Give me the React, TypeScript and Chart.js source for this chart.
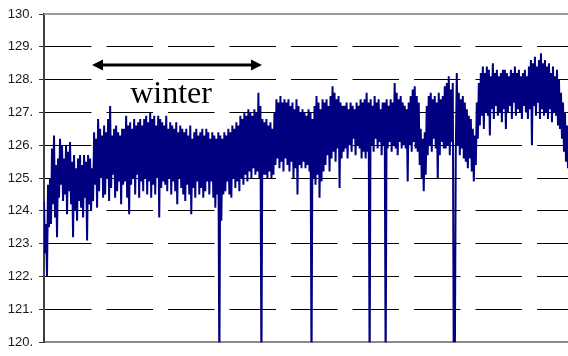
import React, { useEffect, useRef } from "react";
import { Chart, registerables } from "chart.js";

Chart.register(...registerables);

// Y-axis tick values (labels are shown as "130." etc.)
const yTicks = [130, 129, 128, 127, 126, 125, 124, 123, 122, 121, 120];

// The series read from the picture as pairs of samples: the upper sample of each
// 2-px step, then the lower sample of the same step (left to right).
const upper: number[] = [
  124.3, 123.6, 124.8, 125.0, 125.9, 126.3, 125.4, 125.6, 126.2, 126.0,
  125.6, 126.0, 125.8, 126.1, 125.5, 125.7, 125.3, 125.6, 125.7, 125.4,
  125.7, 125.5, 125.7, 125.6, 125.3, 126.4, 126.2, 126.8, 126.5, 126.3,
  126.6, 126.4, 126.8, 127.2, 126.3, 126.5, 126.6, 126.4, 126.3, 126.5,
  126.5, 126.9, 126.6, 126.7, 126.5, 126.8, 126.6, 126.7, 126.8, 126.6,
  126.8, 126.9, 126.7, 127.0, 126.8, 126.9, 126.6, 126.9, 126.8, 126.7,
  126.6, 126.9, 126.5, 126.7, 126.6, 126.5, 126.7, 126.4, 126.6, 126.5,
  126.4, 126.5, 126.3, 126.6, 126.2, 126.4, 126.5, 126.3, 126.4, 126.5,
  126.3, 126.5, 126.4, 126.2, 126.4, 126.3, 126.2, 126.4, 126.3, 126.2,
  126.4, 126.3, 126.5, 126.4, 126.6, 126.5, 126.7, 126.6, 126.9, 126.8,
  127.0, 126.9, 127.1, 127.0, 126.9, 127.1, 127.0, 127.6, 127.2, 126.8,
  126.7, 126.8, 126.6, 126.7, 126.5, 127.0, 127.4, 127.3, 127.5, 127.3,
  127.4, 127.3, 127.4, 127.2, 127.3, 127.1, 127.4, 127.2, 127.0, 127.1,
  127.0, 126.9, 127.1, 127.0, 126.8, 127.2, 127.5, 127.3, 127.1, 127.4,
  127.3, 127.4, 127.2, 127.5, 127.8, 127.6, 127.4, 127.5, 127.3, 127.2,
  127.2, 127.3, 127.1, 127.3, 127.2, 127.1, 127.3, 127.2, 127.4, 127.3,
  127.4, 127.6, 127.3, 127.4, 127.2, 127.5, 127.3, 127.4, 127.1, 127.3,
  127.3, 127.4, 127.2, 127.4, 127.3, 127.9, 127.6, 127.4, 127.5, 127.3,
  127.2, 127.1, 127.3, 127.5, 127.7, 127.8, 127.5, 127.3, 126.5, 126.2,
  126.4, 127.2, 127.5, 127.6, 127.4, 127.5, 127.3, 127.6, 127.4, 127.5,
  127.8, 127.9, 128.1, 127.7, 127.9, 119.0, 128.2, 127.6, 127.4, 127.5,
  127.3, 127.1, 126.9, 126.8, 126.5, 126.3, 127.3, 127.9, 128.2, 128.4,
  128.2, 128.4, 128.3, 128.1, 128.5, 128.2, 128.3, 128.1, 128.2, 128.3,
  128.3, 128.2, 128.1, 128.3, 128.2, 128.4, 128.2, 128.3, 128.1, 128.2,
  128.3, 128.1, 128.4, 128.6, 128.5, 128.7, 128.4, 128.6, 128.8, 128.5,
  128.6, 128.4, 128.5, 128.2, 128.4, 128.1, 128.3, 128.0, 127.6, 127.3,
  127.0, 126.6,
];

const lower: number[] = [
  122.7, 122.0, 123.5, 123.6, 124.2, 123.8, 123.2, 124.4, 124.8, 124.3,
  124.5, 123.9, 124.6, 124.2, 123.2, 124.0, 123.7, 124.3, 124.1, 123.8,
  124.4, 123.1, 124.2, 124.0, 124.3, 124.8, 124.1, 124.6, 125.0, 124.4,
  124.5, 125.0, 124.3, 124.7, 125.1, 124.4, 124.6, 124.9, 124.2, 124.8,
  124.9, 124.4, 123.9, 124.8, 125.0, 124.5, 125.1, 124.4, 124.9, 124.6,
  125.0, 124.5, 124.9, 124.4, 124.8, 124.5, 125.0, 123.8, 124.7, 124.9,
  124.8, 124.6, 125.0, 124.5, 124.9, 124.6, 124.2, 125.0, 124.7, 124.5,
  124.3, 124.8, 124.5, 123.9, 124.7, 124.4, 124.9, 124.5, 124.7, 124.4,
  124.6, 124.9, 124.5, 124.9, 124.4, 124.1, 124.5, 119.0, 123.7, 124.5,
  124.6, 124.9, 124.5, 124.4, 125.0, 124.7, 124.9, 124.6, 125.0, 124.8,
  125.1, 124.9, 125.2, 125.0, 125.3, 125.1, 125.2, 125.0, 119.0, 125.1,
  125.1, 125.0, 125.2, 125.0, 125.1, 125.4, 125.6, 125.3, 125.5, 125.2,
  125.6, 125.4, 125.2, 125.5, 125.0, 125.3, 124.5, 125.4, 125.3, 125.5,
  125.3, 125.4, 125.2, 119.0, 125.0, 124.8, 125.1, 124.4, 124.9, 125.2,
  125.4, 125.7, 125.2, 125.6, 125.8, 125.5, 125.9, 124.7, 125.6, 125.8,
  125.9, 125.6, 126.0, 125.8, 126.2, 125.7, 126.0, 125.9, 125.6, 125.8,
  125.6, 125.8, 119.0, 126.0, 125.8, 126.2, 125.9, 126.1, 125.7, 126.0,
  119.0, 125.9, 126.1, 125.8, 126.0, 125.9, 125.7, 126.1, 125.9, 126.0,
  125.9, 124.9, 126.0, 125.8, 126.1, 125.9, 125.8, 125.4, 125.0, 124.6,
  125.1, 125.7, 126.0, 125.8, 126.2, 125.9, 125.0, 125.7, 126.1, 125.9,
  125.9, 126.0, 125.7, 126.1, 119.0, 125.8, 126.0, 125.7, 125.9, 125.6,
  125.5, 125.3, 125.6, 125.2, 124.9, 125.4, 126.2, 126.6, 126.9, 126.5,
  127.0, 126.9, 126.3, 127.1, 126.8, 127.2, 126.9, 127.0, 126.7, 127.1,
  126.5, 127.0, 127.2, 126.8, 127.3, 126.9, 127.1, 127.0, 126.8, 127.2,
  127.0, 126.8, 127.1, 126.0, 127.2, 126.9, 127.3, 126.8, 127.1, 126.9,
  127.0, 126.8, 127.1, 126.7, 127.0, 126.9, 126.6, 126.5, 126.2, 125.8,
  125.5, 125.3,
];

// Table for the library: upper and lower samples interleaved in reading order.
const series = upper.flatMap((u, k) => [u, lower[k]]);

const annotationText = "winter";

const overlayPlugin = {
  id: "overlay",
  afterDraw(chart: any) {
    const { ctx, chartArea } = chart;
    ctx.save();
    // top solid grey line at 130
    ctx.strokeStyle = "#9a9a9a";
    ctx.lineWidth = 2;
    ctx.beginPath();
    ctx.moveTo(chartArea.left, chartArea.top);
    ctx.lineTo(chartArea.right, chartArea.top);
    ctx.stroke();

    // double-headed arrow
    const y = 65;
    const x1 = 92;
    const x2 = 262;
    const head = 11;
    const hh = 5.5;
    ctx.strokeStyle = "#000";
    ctx.fillStyle = "#000";
    ctx.lineWidth = 3;
    ctx.beginPath();
    ctx.moveTo(x1 + head - 1, y);
    ctx.lineTo(x2 - head + 1, y);
    ctx.stroke();
    ctx.beginPath();
    ctx.moveTo(x1, y);
    ctx.lineTo(x1 + head, y - hh);
    ctx.lineTo(x1 + head, y + hh);
    ctx.closePath();
    ctx.fill();
    ctx.beginPath();
    ctx.moveTo(x2, y);
    ctx.lineTo(x2 - head, y - hh);
    ctx.lineTo(x2 - head, y + hh);
    ctx.closePath();
    ctx.fill();

    // label
    ctx.font = '32px "Liberation Serif", "Times New Roman", serif';
    ctx.textAlign = "center";
    ctx.textBaseline = "alphabetic";
    ctx.fillText(annotationText, 171, 103);
    ctx.restore();
  },
};

export default function App() {
  const ref = useRef<HTMLCanvasElement | null>(null);

  useEffect(() => {
    if (!ref.current) return;
    const chart = new Chart(ref.current, {
      type: "line",
      data: {
        datasets: [
          {
            data: series.map((v, i) => ({ x: i, y: v })),
            borderColor: "#000080",
            borderWidth: 2,
            pointRadius: 0,
            tension: 0,
            fill: false,
          },
        ],
      },
      options: {
        animation: false,
        responsive: false,
        events: [],
        layout: { padding: { top: 14, bottom: 7, left: 0, right: 0 } },
        plugins: {
          legend: { display: false },
          tooltip: { enabled: false },
        },
        scales: {
          x: {
            type: "linear",
            min: 0,
            max: series.length - 1,
            ticks: { display: false },
            grid: { display: false, drawTicks: false },
            border: { display: true, color: "#8a8a8a", width: 2 },
            afterFit: (s: any) => {
              s.height = 0;
            },
          },
          y: {
            type: "linear",
            min: 120,
            max: 130,
            afterBuildTicks: (s: any) => {
              s.ticks = yTicks.map((v) => ({ value: v }));
            },
            ticks: {
              padding: 6,
              color: "#1a1a1a",
              font: { family: '"Liberation Sans", Arial, sans-serif', size: 13 },
              callback: (v: any) => `${Number(v).toFixed(0)}.`,
            },
            grid: {
              color: (c: any) =>
                c.tick && (c.tick.value === 130 || c.tick.value === 120)
                  ? "rgba(0,0,0,0)"
                  : "#000",
              lineWidth: 1,
              tickLength: 5,
              tickColor: "#333",
              tickWidth: 1,
            },
            border: { display: true, color: "#404040", width: 2, dash: [46.5, 15] },
            afterFit: (s: any) => {
              s.width = 44;
            },
          },
        },
      },
      plugins: [overlayPlugin],
    });
    return () => chart.destroy();
  }, []);

  return (
    <div style={{ position: "absolute", left: 0, top: 0, width: 568, height: 356, background: "#fff" }}>
      <canvas ref={ref} width={568} height={356} style={{ display: "block" }} />
    </div>
  );
}
